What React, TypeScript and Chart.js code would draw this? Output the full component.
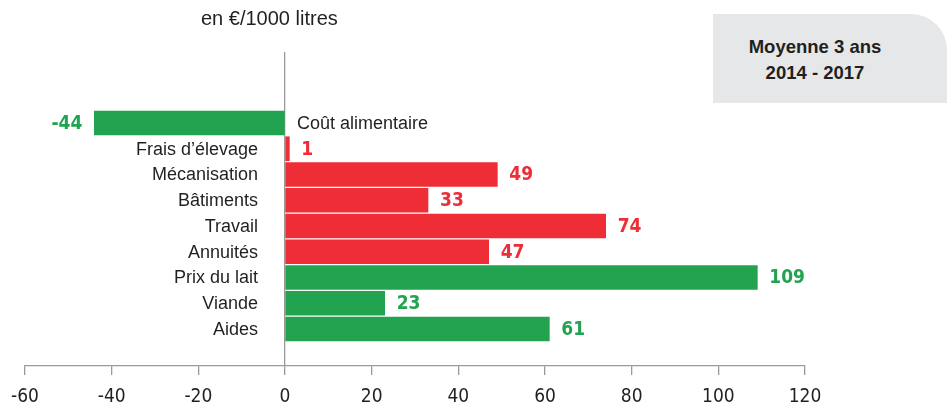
import React, { useEffect, useRef } from "react";
import { Chart, registerables } from "chart.js";

Chart.register(...registerables);

const categories = [
  "Coût alimentaire",
  "Frais d’élevage",
  "Mécanisation",
  "Bâtiments",
  "Travail",
  "Annuités",
  "Prix du lait",
  "Viande",
  "Aides",
];
const values = [-44, 1, 49, 33, 74, 47, 109, 23, 61];
const favorable = [true, false, false, false, false, false, true, true, true];
const xTicks = [-60, -40, -20, 0, 20, 40, 60, 80, 100, 120];
const unitLabel = "en €/1000 litres";
const boxLines = ["Moyenne 3 ans", "2014 - 2017"];

const GREEN = "#22a34f";
const RED = "#ee2d36";
const LABEL_FONT = '"Liberation Sans", Arial, Helvetica, sans-serif';
const NARROW_FONT = '"Liberation Sans Narrow", "DejaVu Sans Condensed", "Liberation Sans", sans-serif';

const labelPlugin = {
  id: "barLabels",
  afterDatasetsDraw(chart: any) {
    const ctx = chart.ctx;
    const meta = chart.getDatasetMeta(0);
    const zero = chart.scales.x.getPixelForValue(0);
    ctx.save();
    ctx.textBaseline = "middle";
    meta.data.forEach((el: any, i: number) => {
      const v = values[i];
      const color = favorable[i] ? GREEN : RED;
      ctx.font = `bold 19px ${NARROW_FONT}`;
      ctx.fillStyle = color;
      if (v >= 0) {
        ctx.textAlign = "left";
        ctx.fillText(String(v), el.x + 12, el.y + 1);
      } else {
        ctx.textAlign = "right";
        ctx.fillText(String(v), el.x - 12, el.y + 1);
      }
      ctx.font = `18px ${LABEL_FONT}`;
      ctx.fillStyle = "#231f20";
      if (v >= 0) {
        ctx.textAlign = "right";
        ctx.fillText(categories[i], zero - 27, el.y + 1);
      } else {
        ctx.textAlign = "left";
        ctx.fillText(categories[i], zero + 12, el.y + 1);
      }
    });
    ctx.restore();
  },
};

export default function App() {
  const canvasRef = useRef<HTMLCanvasElement>(null);

  useEffect(() => {
    const canvas = canvasRef.current;
    if (!canvas) return;
    const chart = new Chart(canvas, {
      type: "bar",
      data: {
        datasets: [
          {
            data: values.map((v, i) => ({ x: v, y: i })),
            backgroundColor: values.map((_, i) => (favorable[i] ? GREEN : RED)),
            borderWidth: 0,
            barThickness: 24,
          },
        ],
      },
      plugins: [labelPlugin],
      options: {
        indexAxis: "y",
        animation: false,
        responsive: false,
        maintainAspectRatio: false,
        layout: { padding: { left: 25, right: 142, top: 52, bottom: 0 } },
        plugins: { legend: { display: false }, tooltip: { enabled: false } },
        scales: {
          x: {
            type: "linear",
            min: xTicks[0],
            max: xTicks[xTicks.length - 1],
            afterBuildTicks: (axis: any) => {
              axis.ticks = xTicks.map((v) => ({ value: v }));
            },
            afterFit: (axis: any) => {
              axis.height = 37;
            },
            ticks: {
              color: "#231f20",
              font: { family: NARROW_FONT, size: 19 },
              padding: 10.5,
            },
            grid: {
              color: (c: any) => (c.tick && c.tick.value === 0 ? "#9a9a9a" : "transparent"),
              tickColor: "#9a9a9a",
              tickLength: 9,
              lineWidth: 1.3,
            },
            border: { display: true, color: "#9a9a9a", width: 1.3 },
          },
          y: {
            type: "linear",
            display: false,
            reverse: true,
            offset: false,
            bounds: "data",
            grace: 0,
            min: -2.757,
            max: 9.437,
          },
        },
      },
    } as any);
    return () => chart.destroy();
  }, []);

  return (
    <div style={{ position: "fixed", left: 0, top: 0, width: 947, height: 403, background: "#fff" }}>
      <canvas ref={canvasRef} width={947} height={403} style={{ position: "absolute", left: 0, top: 0 }} />
      <div
        style={{
          position: "absolute",
          left: 201,
          top: 6,
          fontFamily: LABEL_FONT,
          fontSize: 20,
          lineHeight: "24px",
          color: "#231f20",
          whiteSpace: "nowrap",
        }}
      >
        {unitLabel}
      </div>
      <div
        style={{
          position: "absolute",
          left: 713,
          top: 14,
          width: 234,
          height: 89,
          background: "#e6e7e8",
          borderTopRightRadius: 36,
        }}
      >
        <div
          style={{
            position: "absolute",
            left: 0,
            width: 204,
            top: 20,
            textAlign: "center",
            fontFamily: LABEL_FONT,
            fontWeight: "bold",
            fontSize: 18.5,
            lineHeight: "26px",
            color: "#231f20",
          }}
        >
          {boxLines.map((l) => (
            <div key={l}>{l}</div>
          ))}
        </div>
      </div>
    </div>
  );
}
